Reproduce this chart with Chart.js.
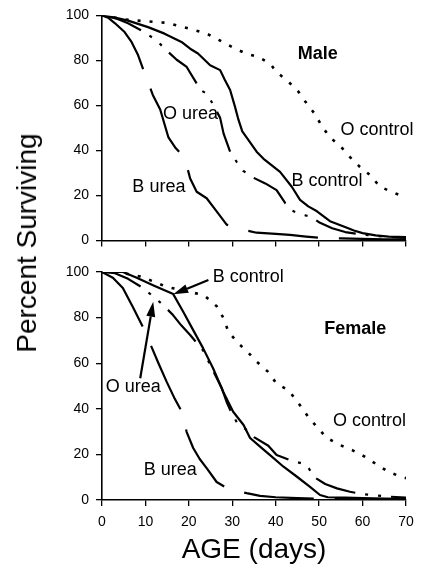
<!DOCTYPE html>
<html>
<head>
<meta charset="utf-8">
<script src="https://cdn.jsdelivr.net/npm/chart.js@4.4.1/dist/chart.umd.min.js"></script>
<style>
  html, body { margin: 0; padding: 0; background: #fff; }
  #wrap { position: relative; width: 422px; height: 573px; background: #fff; overflow: hidden; }
  #cTop { position: absolute; left: 0; top: 0; }
  #cBot { position: absolute; left: 0; top: 256px; }
  #ytitle {
    position: absolute; left: 27px; top: 243px;
    transform: translate(-50%, -50%) rotate(-90deg);
    font-family: 'Liberation Sans', Arial, Helvetica, sans-serif;
    font-size: 28px; line-height: 28px; white-space: nowrap; color: #000;
  }
</style>
</head>
<body>
<div id="wrap">
  <canvas id="cTop" width="422" height="256"></canvas>
  <canvas id="cBot" width="422" height="317"></canvas>
  <div id="ytitle">Percent Surviving</div>
</div>
<script>
// ---- axis ticks ----
const xTicks = [0, 10, 20, 30, 40, 50, 60, 70];
const yTicks = [0, 20, 40, 60, 80, 100];

// ---- Male panel: [day, percent surviving] ----
const maleOControl = [[0,100],[5,98.2],[10,97.4],[15,96.7],[20,94.2],[24,92],[27,89],[30,85.9],[33,83.2],[36,81.5],[38.7,78.6],[40.2,74.9],[42.9,70.6],[45.2,66.2],[46.8,61.8],[49.1,56],[50.6,50.9],[52.5,45.8],[54.8,42.1],[57.1,37.1],[59.4,32.7],[61.8,29],[64,23.9],[66.7,21.7],[70,19]];
const maleBControl = [[0,100],[3,99],[6,97.7],[10.6,94.8],[14.4,91.9],[18.3,88.2],[20.3,85.2],[22.1,83.1],[24.9,77.9],[27.2,75.7],[28.3,71.3],[29.5,66.9],[30.6,59.6],[31.4,53.8],[32.3,48.5],[34.1,43.6],[35.6,39.5],[37.2,36.3],[41,30.5],[43.7,23.9],[45.6,18.1],[47.5,15.2],[49.5,13],[52.5,8.6],[56.4,5.7],[58,4.5],[60,3.3],[63,2.3],[66,1.8],[70,1.5]];
const maleOUrea = [[0,100],[3,98.8],[6,96.5],[9.4,93],[12.5,89],[14.8,84.6],[17.2,80.3],[19.5,77.1],[21.8,69.8],[22.6,66.9],[24.1,65.3],[25.6,60.4],[27.2,54.5],[28,47.5],[29.5,39.5],[31,35],[32.5,31],[34.9,27.9],[37.6,25.4],[40.2,22.4],[42.2,16.6],[44.1,13],[46,11.5],[47.9,10.8],[50.2,7.9],[53,5.5],[56,3.8],[60,2.6],[65,1.8],[70,1.2]];
const maleBUrea = [[0,100],[1.4,99],[3,96.5],[5.2,92.6],[6.8,88.2],[8.3,82.4],[9.8,74.4],[11.7,64.7],[13.4,58.2],[15.3,45.8],[17,41],[19,37],[20.3,27.6],[21.8,21.7],[24.1,18.8],[26.4,13],[28.7,7.1],[31,5.7],[33,4.6],[35.6,3.5],[40,3],[43.3,2.5],[47,1.8],[50,1.3],[55,1],[60,0.8],[65,0.6],[70,0.5]];

// ---- Female panel: [day, percent surviving] ----
const femaleOControl = [[0,100],[5,99.5],[8.8,98],[12.2,95.6],[15,93.4],[19,91.8],[23.5,89.8],[26.4,85],[28,79.7],[29.1,73.8],[31.4,68.7],[33.7,64.6],[35.6,60.7],[38.2,56.3],[40.2,51],[42.9,48.2],[45.2,42.6],[47.5,36.4],[49.5,32],[51.8,27.2],[54.8,24.1],[57.6,21.9],[60.6,18.9],[63.4,15.4],[66,12.3],[69.1,10],[70,9.6]];
const femaleBControl = [[0,100],[4.8,100],[8,97.5],[12,94],[16.4,90.3],[18.7,82.6],[21,74.5],[23.3,66.5],[25.6,57.7],[27.9,47.5],[30.2,38.7],[32.6,32.9],[34.1,27.2],[36.4,23.4],[38.7,19.7],[41.8,14.6],[44.9,10.2],[47.9,5.8],[50.2,2.2],[52,1.2],[56,1],[60,0.8],[65,0.6],[70,0.5]];
const femaleOUrea = [[0,100],[3,99.5],[6,97],[9,93.5],[11.4,89.9],[14.1,85.5],[16.4,81],[18.3,76.5],[20.3,72.4],[23.3,65.5],[25.5,57],[27.6,49],[28.7,43],[30,37.5],[31.4,33],[33,31.2],[35,27.6],[38.3,23.8],[40.2,19.7],[43.3,17.5],[47.2,15.4],[48.7,10.2],[51.4,7],[54.1,5.1],[57.1,3.6],[60,2.6],[63,2],[66,1.5],[70,1]];
const femaleBUrea = [[0,100],[2.5,97.5],[4.8,93],[7.1,84.6],[9.4,75.9],[11.5,66.7],[13,60],[14.9,51.8],[16.6,45],[18.4,38.6],[19.5,29.8],[21,22.8],[22.5,18],[24.1,14],[26.4,7.9],[28.7,5.3],[31,4],[33.3,3],[36.4,1.8],[40,1.2],[45,0.8],[50,0.5],[60,0.3],[70,0.3]];

// ---- series names ----
const seriesNames = ['O control', 'B control', 'O urea', 'B urea'];

const FONT = "'Liberation Sans', Arial, Helvetica, sans-serif";

// line styles per series
const styles = {
  'O control': { borderDash: [3, 9], borderWidth: 2.6, borderCapStyle: 'butt' },
  'B control': { borderDash: [], borderWidth: 2.2, borderCapStyle: 'butt' },
  'O urea':    { borderDash: [42, 10, 3, 10, 3, 10], borderWidth: 2.2, borderCapStyle: 'butt' },
  'B urea':    { borderDash: [70, 21], borderWidth: 2.2, borderCapStyle: 'butt' }
};

function toXY(arr) { return arr.map(p => ({ x: p[0], y: p[1] })); }

function makeDatasets(list) {
  return list.map((arr, i) => Object.assign({
    label: seriesNames[i],
    data: toXY(arr),
    borderColor: '#000',
    backgroundColor: '#000',
    pointRadius: 0,
    tension: 0,
    fill: false,
    borderJoinStyle: 'round'
  }, styles[seriesNames[i]]));
}

function notesPlugin(labels, arrows) {
  return {
    id: 'notes',
    afterDatasetsDraw(chart) {
      const ctx = chart.ctx, sx = chart.scales.x, sy = chart.scales.y;
      ctx.save();
      ctx.fillStyle = '#000';
      ctx.strokeStyle = '#000';
      labels.forEach(l => {
        ctx.font = (l.bold ? 'bold ' : '') + '18px ' + FONT;
        ctx.textAlign = 'center';
        ctx.textBaseline = 'middle';
        ctx.fillText(l.text, sx.getPixelForValue(l.x), sy.getPixelForValue(l.y));
      });
      arrows.forEach(a => {
        const x1 = sx.getPixelForValue(a.from[0]), y1 = sy.getPixelForValue(a.from[1]);
        const x2 = sx.getPixelForValue(a.to[0]), y2 = sy.getPixelForValue(a.to[1]);
        const ang = Math.atan2(y2 - y1, x2 - x1);
        const hl = 15, hw = 4.5;
        const bx = x2 - hl * Math.cos(ang), by = y2 - hl * Math.sin(ang);
        ctx.lineWidth = 2.2;
        ctx.beginPath(); ctx.moveTo(x1, y1); ctx.lineTo(bx, by); ctx.stroke();
        ctx.beginPath();
        ctx.moveTo(x2, y2);
        ctx.lineTo(bx + hw * Math.sin(ang), by - hw * Math.cos(ang));
        ctx.lineTo(bx - hw * Math.sin(ang), by + hw * Math.cos(ang));
        ctx.closePath(); ctx.fill();
      });
      ctx.restore();
    }
  };
}

function makeChart(canvasId, datasets, cfg) {
  return new Chart(document.getElementById(canvasId), {
    type: 'line',
    data: { datasets },
    options: {
      responsive: false,
      animation: false,
      devicePixelRatio: 1,
      layout: { padding: { top: cfg.padTop, right: 16, left: 0, bottom: 0 } },
      plugins: { legend: { display: false }, tooltip: { enabled: false } },
      scales: {
        x: {
          type: 'linear', min: 0, max: 70,
          afterBuildTicks: s => { s.ticks = xTicks.map(v => ({ value: v })); },
          afterFit: s => { s.height = cfg.xHeight; },
          grid: { drawOnChartArea: false, drawTicks: true, tickLength: 6, color: '#000', lineWidth: 1.3 },
          border: { display: true, color: '#000', width: 1.6 },
          ticks: { display: cfg.showX, color: '#000', padding: 8, maxRotation: 0, font: { family: FONT, size: 14 } },
          title: { display: cfg.showX, text: 'AGE (days)', color: '#000', padding: { top: 0, bottom: 6 }, font: { family: FONT, size: 28 } }
        },
        y: {
          type: 'linear', min: 0, max: 100,
          afterBuildTicks: s => { s.ticks = yTicks.map(v => ({ value: v })); },
          afterFit: s => { s.width = 102; },
          grid: { drawOnChartArea: false, drawTicks: true, tickLength: 6, color: '#000', lineWidth: 1.3 },
          border: { display: true, color: '#000', width: 1.6 },
          ticks: { color: '#000', padding: 7, font: { family: FONT, size: 14 } }
        }
      }
    },
    plugins: [notesPlugin(cfg.labels, cfg.arrows)]
  });
}

makeChart('cTop', makeDatasets([maleOControl, maleBControl, maleOUrea, maleBUrea]), {
  padTop: 14, xHeight: 13, showX: false,
  labels: [
    { text: 'Male', x: 49.7, y: 82.8, bold: true },
    { text: 'O urea', x: 20.4, y: 56.3 },
    { text: 'B urea', x: 13.1, y: 23.6 },
    { text: 'O control', x: 63.3, y: 49.3 },
    { text: 'B control', x: 51.8, y: 26.4 }
  ],
  arrows: []
});

makeChart('cBot', makeDatasets([femaleOControl, femaleBControl, femaleOUrea, femaleBUrea]), {
  padTop: 16, xHeight: 73, showX: true,
  labels: [
    { text: 'Female', x: 58.3, y: 75, bold: true },
    { text: 'B control', x: 33.7, y: 97.6 },
    { text: 'O urea', x: 7.2, y: 49.7 },
    { text: 'B urea', x: 15.7, y: 13.2 },
    { text: 'O control', x: 61.6, y: 34.6 }
  ],
  arrows: [
    { from: [24.5, 96.5], to: [16.4, 90.2] },
    { from: [8.8, 53.4], to: [11.8, 87] }
  ]
});
</script>
</body>
</html>
